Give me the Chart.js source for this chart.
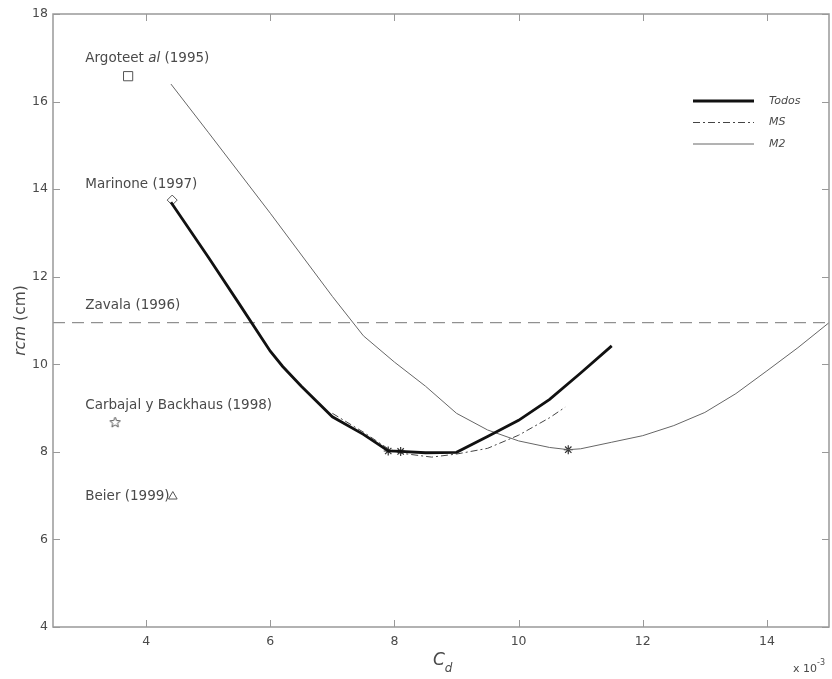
<!DOCTYPE html>
<html>
<head>
<meta charset="utf-8">
<script src="https://cdn.jsdelivr.net/npm/chart.js@4.4.1/dist/chart.umd.min.js"></script>
<style>
  html, body { margin: 0; padding: 0; background: #fff; }
</style>
</head>
<body>
<canvas id="grafico" width="832" height="679"></canvas>
<script>
// rcm (cm) frente a Cd (x 10^-3)

const cdTodos = [4.4, 5.0, 5.5, 6.0, 6.2, 6.5, 7.0, 7.5, 7.9, 8.1, 8.5, 9.0, 9.5, 10.0, 10.5, 11.0, 11.5];
const rcmTodos = [13.7, 12.45, 11.38, 10.3, 9.95, 9.5, 8.8, 8.4, 8.02, 8.01, 7.98, 7.99, 8.35, 8.72, 9.2, 9.8, 10.42];

const cdMS = [7.0, 7.5, 7.9, 8.1, 8.6, 9.0, 9.5, 10.0, 10.5, 10.75];
const rcmMS = [8.88, 8.45, 8.07, 7.97, 7.88, 7.95, 8.08, 8.38, 8.78, 9.02];

const cdM2 = [4.4, 5.0, 6.0, 7.0, 7.5, 8.0, 8.5, 9.0, 9.5, 10.0, 10.5, 10.8, 11.0, 11.5, 12.0, 12.5, 13.0, 13.5, 14.0, 14.5, 15.0];
const rcmM2 = [16.4, 15.3, 13.45, 11.55, 10.65, 10.05, 9.5, 8.88, 8.5, 8.25, 8.1, 8.05, 8.07, 8.22, 8.37, 8.6, 8.9, 9.33, 9.85, 10.38, 10.95];

// minimos (asteriscos)
const cdMin = [7.9, 8.1, 10.8];
const rcmMin = [8.02, 8.01, 8.05];

// estimaciones de otros autores
const cdArgote = 3.71, rcmArgote = 16.58;
const cdMarinone = 4.42, rcmMarinone = 13.75;
const cdCarbajal = 3.5, rcmCarbajal = 8.67;
const cdBeier = 4.43, rcmBeier = 6.98;
const rcmZavala = 10.95;

const xTicks = [4, 6, 8, 10, 12, 14];
const yTicks = [4, 6, 8, 10, 12, 14, 16, 18];

const FUENTE = "'DejaVu Sans', sans-serif";
const GRIS = "#4a4a4a";

function puntos(xs, ys) {
    return xs.map((x, i) => ({ x: x, y: ys[i] }));
}

// estrella de cinco puntas hueca
function estrella(r) {
    const c = document.createElement("canvas");
    const s = Math.ceil(r * 2 + 4);
    c.width = c.height = s;
    const g = c.getContext("2d");
    g.strokeStyle = "#555";
    g.lineWidth = 1;
    g.beginPath();
    for (let i = 0; i < 10; i++) {
        const rr = i % 2 ? r * 0.45 : r;
        const a = -Math.PI / 2 + i * Math.PI / 5;
        const px = s / 2 + rr * Math.cos(a);
        const py = s / 2 + rr * Math.sin(a);
        if (i) g.lineTo(px, py); else g.moveTo(px, py);
    }
    g.closePath();
    g.stroke();
    return c;
}

function marcador(x, y, estilo, radio) {
    return {
        data: [{ x: x, y: y }],
        pointStyle: estilo,
        pointRadius: radio,
        pointBorderColor: "#555",
        pointBackgroundColor: "rgba(0,0,0,0)",
        pointBorderWidth: 1,
        showLine: false
    };
}

// textos de los autores: segmentos [texto, cursiva]
const textos = [
    { y: rcmArgote, dy: -18, seg: [["Argoteet ", false], ["al", true], [" (1995)", false]] },
    { y: rcmMarinone, dy: -16, seg: [["Marinone (1997)", false]] },
    { y: rcmZavala, dy: -17, seg: [["Zavala (1996)", false]] },
    { y: rcmCarbajal, dy: -17, seg: [["Carbajal y Backhaus (1998)", false]] },
    { y: rcmBeier, dy: 0, seg: [["Beier (1999)", false]] }
];

function texto(c, segs, x, y, size) {
    c.textBaseline = "middle";
    c.textAlign = "left";
    for (const [t, it] of segs) {
        c.font = (it ? "italic " : "") + size + "px " + FUENTE;
        c.fillText(t, x, y);
        x += c.measureText(t).width;
    }
}

const decoracion = {
    id: "decoracion",
    afterDraw(chart) {
        const c = chart.ctx;
        const a = chart.chartArea;
        const sx = chart.scales.x, sy = chart.scales.y;
        c.save();

        // marco y marcas hacia dentro
        c.strokeStyle = "#999";
        c.lineWidth = 1.5;
        c.strokeRect(a.left, a.top, a.right - a.left, a.bottom - a.top);
        c.lineWidth = 1;
        c.beginPath();
        for (const v of xTicks) {
            const px = Math.round(sx.getPixelForValue(v)) + 0.5;
            c.moveTo(px, a.bottom); c.lineTo(px, a.bottom - 7);
            c.moveTo(px, a.top); c.lineTo(px, a.top + 7);
        }
        for (const v of yTicks) {
            const py = Math.round(sy.getPixelForValue(v)) + 0.5;
            c.moveTo(a.left, py); c.lineTo(a.left + 7, py);
            c.moveTo(a.right, py); c.lineTo(a.right - 7, py);
        }
        c.stroke();

        // autores
        c.fillStyle = GRIS;
        const tx = sx.getPixelForValue(3.02);
        for (const t of textos) {
            texto(c, t.seg, tx, sy.getPixelForValue(t.y) + t.dy, 13.5);
        }

        // leyenda
        const series = chart.data.datasets.slice(0, 3);
        series.forEach((d, i) => {
            const ly = a.top + 87 + i * 21.5;
            c.beginPath();
            c.strokeStyle = d.borderColor;
            c.lineWidth = d.borderWidth;
            c.setLineDash(d.borderDash || []);
            c.moveTo(a.right - 136, ly);
            c.lineTo(a.right - 75, ly);
            c.stroke();
            c.setLineDash([]);
            texto(c, [[d.label, true]], a.right - 60, ly, 11);
        });

        // titulo eje y
        c.save();
        c.translate(21, (a.top + a.bottom) / 2);
        c.rotate(-Math.PI / 2);
        c.font = "italic 15.5px " + FUENTE;
        const w1 = c.measureText("rcm").width;
        c.font = "15.5px " + FUENTE;
        const w2 = c.measureText(" (cm)").width;
        texto(c, [["rcm", true], [" (cm)", false]], -(w1 + w2) / 2, 0, 15.5);
        c.restore();

        // titulo eje x
        const cx = (a.left + a.right) / 2 - 8;
        c.font = "italic 17px " + FUENTE;
        c.textBaseline = "alphabetic";
        c.fillText("C", cx, 665);
        const wc = c.measureText("C").width;
        c.font = "italic 12px " + FUENTE;
        c.fillText("d", cx + wc, 672);

        // factor de escala
        c.font = "11px " + FUENTE;
        c.fillText("x 10", 793, 672);
        const wx = c.measureText("x 10").width;
        c.font = "8px " + FUENTE;
        c.fillText("-3", 793 + wx, 665);

        c.restore();
    }
};

// sin margenes extra por las etiquetas de los ejes
function sinMargen(s) {
    s.paddingLeft = 0;
    s.paddingRight = 0;
    s.paddingTop = 0;
    s.paddingBottom = 0;
}

const ctx = document.getElementById("grafico");

new Chart(ctx, {
    type: "scatter",
    data: {
        datasets: [
            {
                label: "Todos",
                data: puntos(cdTodos, rcmTodos),
                showLine: true,
                borderColor: "#111",
                borderWidth: 2.8,
                pointRadius: 0,
                tension: 0
            },
            {
                label: "MS",
                data: puntos(cdMS, rcmMS),
                showLine: true,
                borderColor: "#444",
                borderWidth: 1,
                borderDash: [7, 3, 2, 3],
                pointRadius: 0,
                tension: 0
            },
            {
                label: "M2",
                data: puntos(cdM2, rcmM2),
                showLine: true,
                borderColor: "#666",
                borderWidth: 1,
                pointRadius: 0,
                tension: 0
            },
            {
                label: "Zavala",
                data: [{ x: 2.5, y: rcmZavala }, { x: 15, y: rcmZavala }],
                showLine: true,
                borderColor: "#777",
                borderWidth: 1,
                borderDash: [12, 7],
                pointRadius: 0
            },
            {
                label: "min",
                data: puntos(cdMin, rcmMin),
                showLine: false,
                pointStyle: "star",
                pointRadius: 4.5,
                pointBorderColor: "#333",
                pointBorderWidth: 1.2
            },
            marcador(cdArgote, rcmArgote, "rect", 6.5),
            marcador(cdMarinone, rcmMarinone, "rectRot", 5),
            marcador(cdCarbajal, rcmCarbajal, estrella(5.5), 5),
            marcador(cdBeier, rcmBeier, "triangle", 5)
        ]
    },
    options: {
        responsive: false,
        animation: false,
        devicePixelRatio: 1,
        layout: {
            autoPadding: false,
            padding: { top: 14, right: 3, left: 0, bottom: 0 }
        },
        plugins: {
            legend: { display: false },
            tooltip: { enabled: false }
        },
        scales: {
            x: {
                type: "linear",
                min: 2.5,
                max: 15,
                grid: { display: false, drawTicks: false },
                border: { display: false },
                ticks: {
                    padding: 7,
                    color: GRIS,
                    font: { family: FUENTE, size: 12.5 }
                },
                afterBuildTicks: s => { s.ticks = xTicks.map(v => ({ value: v })); },
                afterFit: s => { s.height = 52; sinMargen(s); }
            },
            y: {
                type: "linear",
                min: 4,
                max: 18,
                grid: { display: false, drawTicks: false },
                border: { display: false },
                ticks: {
                    padding: 5,
                    color: GRIS,
                    font: { family: FUENTE, size: 12.5 }
                },
                afterBuildTicks: s => { s.ticks = yTicks.map(v => ({ value: v })); },
                afterFit: s => { s.width = 53; sinMargen(s); }
            }
        }
    },
    plugins: [decoracion]
});
</script>
</body>
</html>
